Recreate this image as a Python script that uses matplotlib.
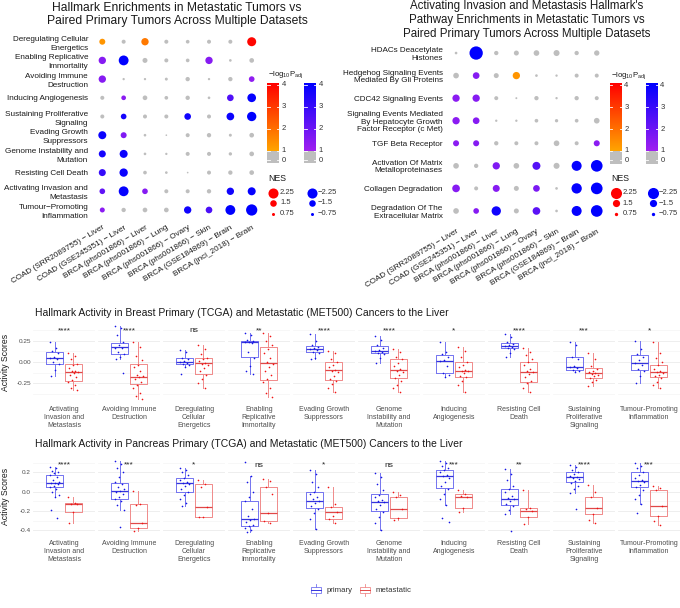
import numpy as np
import matplotlib
matplotlib.use("Agg")
import matplotlib.pyplot as plt
from matplotlib.colors import LinearSegmentedColormap
from matplotlib.patches import Rectangle

plt.rcParams["font.family"] = ["Liberation Sans", "DejaVu Sans"]
plt.rcParams["mathtext.fontset"] = "custom"
plt.rcParams["mathtext.rm"] = "Liberation Sans"

# ---------------- dot plot data ----------------
datasets = ["COAD (SRR2089755) \u2212 Liver", "COAD (GSE245351) \u2212 Liver",
            "BRCA (phs001866) \u2212 Liver", "BRCA (phs001866) \u2212 Lung",
            "BRCA (phs001866) \u2212 Ovary", "BRCA (phs001866) \u2212 Skin",
            "BRCA (GSE184869) \u2212 Brain", "BRCA (jnci_2018) \u2212 Brain"]

hallmarks = ["Deregulating Cellular\nEnergetics", "Enabling Replicative\nImmortality",
             "Avoiding Immune\nDestruction", "Inducing Angiogenesis",
             "Sustaining Proliferative\nSignaling", "Evading Growth\nSuppressors",
             "Genome Instability and\nMutation", "Resisting Cell Death",
             "Activating Invasion and\nMetastasis", "Tumour\u2212Promoting\nInflammation"]

nes_hallmark = [
    [1.38, 0.96, 1.67, 0.96, 0.89, 0.96, 0.96, 2.02],
    [-1.67, -2.2, -1.17, -0.96, -0.89, -1.67, -0.67, -1.10],
    [-1.67, -0.6, -0.6, -0.74, -1.03, -0.6, -1.03, -1.31],
    [-0.96, -1.10, -1.10, -0.89, -1.03, -0.67, -1.52, -1.95],
    [-0.96, -1.31, -0.96, -0.96, -1.52, -0.96, -1.74, -2.09],
    [-1.81, -1.38, -0.67, -0.46, -0.96, -1.03, -0.74, -1.10],
    [-1.6, -1.81, -0.67, -0.6, -0.96, -0.96, -0.82, -1.10],
    [-1.6, -1.88, -0.89, -0.67, -0.46, -0.96, -1.03, -1.10],
    [-1.31, -2.2, -1.31, -0.96, -0.96, -1.03, -1.67, -1.81],
    [-1.17, -1.03, -1.10, -1.10, -1.67, -1.52, -2.2, -2.5],
]
logp_hallmark = [
    [1.3, 0.3, 1.8, 0.2, 0.2, 0.3, 0.2, 3.9],
    [1.5, 4.0, 0.6, 0.3, 0.2, 1.5, 0.1, 0.4],
    [1.5, 0.1, 0.1, 0.1, 0.3, 0.1, 0.4, 1.3],
    [0.2, 1.4, 0.3, 0.2, 0.3, 0.1, 2.5, 3.9],
    [0.2, 3.6, 0.2, 0.2, 3.7, 0.2, 3.8, 4.0],
    [3.8, 1.6, 0.1, 0.1, 0.2, 0.3, 0.1, 0.4],
    [3.6, 3.8, 0.1, 0.1, 0.2, 0.2, 0.1, 0.4],
    [3.0, 3.8, 0.2, 0.1, 0.1, 0.2, 0.3, 0.4],
    [2.2, 3.9, 1.5, 0.2, 0.2, 0.3, 3.7, 3.9],
    [1.4, 0.3, 0.4, 0.4, 3.7, 2.6, 4.0, 4.0],
]

pathways = ["HDACs Deacetylate\nHistones", "Hedgehog Signaling Events\nMediated By Gli Proteins",
            "CDC42 Signaling Events",
            "Signaling Events Mediated\nBy Hepatocyte Growth\nFactor Receptor (c Met)",
            "TGF Beta Receptor", "Activation Of Matrix\nMetalloproteinases",
            "Collagen Degradation", "Degradation Of The\nExtracellular Matrix"]

nes_pathway = [
    [-0.62, -2.68, -0.94, -1.07, -1.2, -1.27, -0.94, -1.14],
    [-1.2, -1.4, -1.07, 1.52, -0.62, -0.56, -0.88, -0.88],
    [-1.52, -1.52, -0.88, -0.49, -0.94, -0.56, -0.94, -0.88],
    [-1.52, -1.4, -0.56, -0.56, -0.82, -0.75, -0.82, -1.2],
    [-1.27, -1.27, -0.94, -0.88, -0.88, -1.2, -0.88, -1.27],
    [-1.2, -0.94, -1.52, -1.2, -1.65, -1.27, -2.04, -2.36],
    [-1.59, -0.88, -1.46, -1.07, -1.4, -0.62, -2.1, -2.36],
    [-1.2, -1.2, -1.91, -1.07, -1.59, -0.62, -2.04, -2.36],
]
logp_pathway = [
    [0.1, 4.0, 0.3, 0.4, 0.5, 0.5, 0.3, 0.4],
    [0.4, 1.5, 0.3, 1.3, 0.1, 0.1, 0.2, 0.2],
    [1.4, 1.5, 0.2, 0.1, 0.3, 0.1, 0.3, 0.2],
    [1.4, 1.5, 0.1, 0.1, 0.2, 0.2, 0.2, 0.4],
    [1.4, 1.5, 0.3, 0.2, 0.2, 0.5, 0.2, 1.4],
    [0.4, 0.3, 1.6, 0.4, 2.4, 0.5, 3.9, 4.0],
    [1.5, 0.2, 1.5, 0.3, 1.7, 0.1, 3.9, 4.0],
    [0.4, 1.5, 3.7, 0.3, 2.3, 0.1, 3.9, 4.0],
]

nes_breaks = [2.25, 1.5, 0.75]
logp_ticks = [4, 3, 2, 1, 0]

# ---------------- box plot data ----------------
box_labels = ["Activating\nInvasion and\nMetastasis", "Avoiding Immune\nDestruction",
              "Deregulating\nCellular\nEnergetics", "Enabling\nReplicative\nImmortality",
              "Evading Growth\nSuppressors", "Genome\nInstability and\nMutation",
              "Inducing\nAngiogenesis", "Resisting Cell\nDeath",
              "Sustaining\nProliferative\nSignaling", "Tumour-Promoting\nInflammation"]

# (whisker low, q1, median, q3, whisker high)
breast_primary_stats = [
    (-0.16, -0.024, 0.05, 0.122, 0.24), (0.03, 0.09, 0.173, 0.228, 0.425),
    (-0.055, -0.024, 0.004, 0.05, 0.14), (-0.142, 0.055, 0.236, 0.25, 0.34),
    (0.03, 0.114, 0.15, 0.193, 0.33), (-0.008, 0.102, 0.134, 0.193, 0.307),
    (-0.173, -0.134, 0.016, 0.083, 0.232), (0.055, 0.161, 0.193, 0.22, 0.33),
    (-0.114, -0.094, -0.055, 0.055, 0.232), (-0.252, -0.094, -0.008, 0.083, 0.244)]
breast_metastatic_stats = [
    (-0.33, -0.22, -0.114, -0.028, 0.10), (-0.44, -0.264, -0.173, -0.028, 0.24),
    (-0.30, -0.142, -0.016, 0.043, 0.2), (-0.41, -0.213, -0.016, 0.173, 0.34),
    (-0.35, -0.213, -0.094, 0.004, 0.134), (-0.35, -0.185, -0.094, 0.035, 0.15),
    (-0.35, -0.173, -0.102, -0.004, 0.173), (-0.35, -0.24, -0.122, 0.004, 0.161),
    (-0.283, -0.193, -0.134, -0.075, 0.11), (-0.303, -0.181, -0.122, -0.035, 0.24)]
breast_primary_pts = [
    [0.24, 0.17, 0.13, 0.10, 0.06, 0.05, 0.03, 0.00, -0.02, -0.09, -0.16],
    [0.42, 0.40, 0.32, 0.23, 0.20, 0.17, 0.16, 0.12, 0.09, 0.06, 0.03, -0.126],
    [0.14, 0.12, 0.05, 0.03, 0.01, 0.0, -0.01, -0.02, -0.04, -0.055, -0.146],
    [0.34, 0.32, 0.26, 0.25, 0.24, 0.23, 0.22, 0.12, 0.05, -0.05, -0.10, -0.142],
    [0.33, 0.25, 0.2, 0.18, 0.16, 0.15, 0.14, 0.12, 0.10, 0.05, 0.03],
    [0.307, 0.26, 0.2, 0.17, 0.14, 0.13, 0.12, 0.11, 0.09, 0.05, -0.008],
    [0.232, 0.12, 0.09, 0.06, 0.02, 0.01, -0.05, -0.13, -0.15, -0.173],
    [0.33, 0.29, 0.24, 0.21, 0.2, 0.19, 0.18, 0.17, 0.15, 0.1, 0.055],
    [0.232, 0.2, 0.06, 0.04, -0.05, -0.06, -0.07, -0.09, -0.1, -0.114],
    [0.244, 0.15, 0.09, 0.06, 0.02, -0.01, -0.03, -0.08, -0.1, -0.17, -0.252]]
breast_metastatic_pts = [
    [0.10, 0.07, 0.03, -0.02, -0.04, -0.07, -0.1, -0.11, -0.12, -0.13, -0.15, -0.18, -0.21, -0.23, -0.27, -0.30, -0.33],
    [0.24, 0.18, 0.07, 0.02, -0.03, -0.06, -0.11, -0.15, -0.17, -0.18, -0.2, -0.24, -0.27, -0.31, -0.36, -0.40, -0.44],
    [0.2, 0.15, 0.09, 0.05, 0.03, 0.01, -0.01, -0.02, -0.04, -0.07, -0.1, -0.15, -0.2, -0.25, -0.30],
    [0.34, 0.3, 0.25, 0.2, 0.15, 0.1, 0.05, 0.0, -0.02, -0.06, -0.1, -0.15, -0.2, -0.24, -0.3, -0.36, -0.41],
    [0.134, 0.1, 0.04, 0.0, -0.03, -0.06, -0.09, -0.1, -0.12, -0.16, -0.2, -0.22, -0.26, -0.3, -0.35],
    [0.15, 0.12, 0.06, 0.03, -0.01, -0.05, -0.08, -0.1, -0.12, -0.15, -0.19, -0.22, -0.27, -0.31, -0.35],
    [0.173, 0.13, 0.06, 0.0, -0.03, -0.06, -0.09, -0.1, -0.11, -0.13, -0.16, -0.18, -0.22, -0.27, -0.35],
    [0.161, 0.12, 0.08, 0.03, 0.0, -0.04, -0.08, -0.11, -0.12, -0.14, -0.18, -0.22, -0.25, -0.3, -0.35],
    [0.11, 0.04, -0.05, -0.08, -0.1, -0.12, -0.13, -0.14, -0.15, -0.17, -0.19, -0.21, -0.24, -0.283],
    [0.24, 0.1, 0.05, 0.0, -0.04, -0.08, -0.1, -0.12, -0.13, -0.15, -0.17, -0.19, -0.23, -0.27, -0.303]]
breast_sig = ["****", "****", "ns", "**", "****", "****", "*", "****", "***", "*"]

pancreas_primary_stats = [
    (-0.052, 0.045, 0.093, 0.172, 0.259), (-0.19, -0.079, 0.007, 0.086, 0.317),
    (-0.145, 0.0, 0.093, 0.138, 0.241), (-0.42, -0.352, -0.286, -0.097, 0.166),
    (-0.386, -0.172, -0.097, -0.007, 0.224), (-0.397, -0.197, -0.103, -0.028, 0.19),
    (-0.138, 0.041, 0.162, 0.221, 0.32), (-0.231, -0.138, -0.076, 0.028, 0.231),
    (-0.017, 0.097, 0.148, 0.2, 0.276), (-0.131, 0.045, 0.11, 0.2, 0.293)]
pancreas_metastatic_stats = [
    (-0.32, -0.207, -0.128, -0.12, -0.059), (-0.403, -0.372, -0.321, -0.131, 0.01),
    (-0.265, -0.259, -0.155, 0.076, 0.121), (-0.32, -0.303, -0.224, 0.052, 0.131),
    (-0.32, -0.286, -0.214, -0.155, 0.045), (-0.293, -0.269, -0.179, -0.059, -0.007),
    (-0.207, -0.172, -0.059, -0.028, 0.017), (-0.334, -0.259, -0.197, -0.166, 0.017),
    (-0.321, -0.234, -0.172, -0.059, 0.069), (-0.345, -0.252, -0.148, 0.017, 0.059)]
pancreas_primary_pts = [
    [0.259, 0.24, 0.21, 0.2, 0.19, 0.17, 0.15, 0.12, 0.1, 0.09, 0.09, 0.08, 0.06, 0.05, 0.03, 0.0, -0.03, -0.052, -0.19, -0.276],
    [0.317, 0.29, 0.24, 0.2, 0.15, 0.1, 0.08, 0.05, 0.03, 0.01, 0.0, -0.02, -0.05, -0.08, -0.1, -0.14, -0.19, -0.362],
    [0.241, 0.22, 0.2, 0.17, 0.14, 0.12, 0.1, 0.09, 0.08, 0.06, 0.03, 0.0, -0.03, -0.08, -0.12, -0.145],
    [0.31, 0.166, 0.1, 0.0, -0.05, -0.1, -0.18, -0.25, -0.28, -0.29, -0.31, -0.34, -0.35, -0.38, -0.4, -0.42],
    [0.224, 0.18, 0.1, 0.05, 0.0, -0.02, -0.05, -0.08, -0.1, -0.12, -0.15, -0.18, -0.22, -0.28, -0.386],
    [0.19, 0.15, 0.08, 0.02, -0.03, -0.06, -0.09, -0.1, -0.11, -0.14, -0.18, -0.21, -0.26, -0.32, -0.397],
    [0.32, 0.3, 0.27, 0.24, 0.22, 0.2, 0.17, 0.16, 0.14, 0.1, 0.06, 0.03, -0.02, -0.08, -0.138, -0.27, -0.31],
    [0.231, 0.18, 0.12, 0.06, 0.03, 0.0, -0.04, -0.07, -0.08, -0.1, -0.13, -0.15, -0.19, -0.231, -0.407],
    [0.276, 0.25, 0.22, 0.2, 0.18, 0.16, 0.15, 0.14, 0.13, 0.11, 0.09, 0.06, 0.03, -0.017, -0.183],
    [0.293, 0.27, 0.24, 0.2, 0.17, 0.14, 0.12, 0.11, 0.1, 0.07, 0.05, 0.02, -0.03, -0.08, -0.131, -0.224]]
pancreas_metastatic_pts = [
    [-0.059, -0.12, -0.128, -0.13, -0.207, -0.32],
    [0.01, -0.131, -0.14, -0.32, -0.372, -0.403],
    [0.121, 0.076, 0.05, -0.155, -0.259, -0.265],
    [0.131, 0.11, 0.052, -0.02, -0.224, -0.303, -0.32],
    [0.045, -0.13, -0.155, -0.214, -0.25, -0.286, -0.32],
    [-0.007, -0.03, -0.059, -0.179, -0.269, -0.293],
    [0.017, -0.028, -0.04, -0.059, -0.172, -0.207],
    [0.017, -0.166, -0.18, -0.197, -0.259, -0.334],
    [0.069, 0.0, -0.059, -0.172, -0.234, -0.29, -0.321],
    [0.059, 0.04, 0.017, -0.148, -0.252, -0.3, -0.345]]
pancreas_sig = ["****", "***", "*", "ns", "*", "ns", "***", "**", "****", "***"]

# ---------------- helpers ----------------
W, H = 680, 608
fig = plt.figure(figsize=(W / 100, H / 100), dpi=100)


def px_rect(l, t, r, b):
    return [l / W, 1 - b / H, (r - l) / W, (b - t) / H]


red_cmap = LinearSegmentedColormap.from_list("up", ["#FFA500", "#FF0000"])
blue_cmap = LinearSegmentedColormap.from_list("down", ["#A020F0", "#0000FF"])
GRAY = "#BEBEBE"


def dot_size(nes, scale=1.0):
    d = scale * (4.7 * np.abs(np.asarray(nes, dtype=float)) - 0.5)
    return (d * 0.72) ** 2


def dot_color(nes, lp):
    if lp < 1:
        return GRAY
    frac = (min(lp, 4) - 1) / 3
    return red_cmap(frac) if nes > 0 else blue_cmap(frac)


def dot_plot(rect, rows, nes, logp, scale, ls, xpad):
    ax = fig.add_axes(rect)
    nes = np.array(nes)
    logp = np.array(logp)
    ny, nx = nes.shape
    xx, yy = np.meshgrid(np.arange(1, nx + 1), np.arange(1, ny + 1))
    cols = [dot_color(n, p) for n, p in zip(nes.ravel(), logp.ravel())]
    ax.scatter(xx.ravel(), yy.ravel(), s=dot_size(nes.ravel(), scale), c=cols, linewidths=0)
    ax.set_xlim(0.4, nx + 0.6)
    ax.set_ylim(ny + 0.6, 0.4)
    ax.set_xticks(range(1, nx + 1))
    ax.set_xticklabels(datasets, rotation=31, ha="right", va="top",
                       rotation_mode="anchor", fontsize=5.9, color="#1A1A1A")
    ax.set_yticks(range(1, ny + 1))
    ax.set_yticklabels(rows, fontsize=5.9, color="#1A1A1A", linespacing=ls)
    ax.tick_params(axis="y", length=0, pad=1)
    ax.tick_params(axis="x", length=0, pad=xpad)
    for s in ax.spines.values():
        s.set_visible(False)
    return ax


# ---------------- top dot plots ----------------
fig.text(177 / W, 1 - 14.5 / H,
         "Hallmark Enrichments in Metastatic Tumors vs\nPaired Primary Tumors Across Multiple Datasets",
         ha="center", va="center", fontsize=8.7, linespacing=1.19, color="#1A1A1A")
dot_plot(px_rect(89.5, 30.5, 264.5, 221.2), hallmarks, nes_hallmark, logp_hallmark, 1.0, 1.4, 2.2)

fig.text(526.5 / W, 1 - 19.8 / H,
         "Activating Invasion and Metastasis Hallmark's\nPathway Enrichments in Metastatic Tumors vs\n"
         "Paired Primary Tumors Across Multiple Datasets",
         ha="center", va="center", fontsize=8.3, linespacing=1.2, color="#1A1A1A")
dot_plot(px_rect(444, 39.5, 608.8, 224.5), pathways, nes_pathway, logp_pathway, 1.1, 1.12, 2.5)


# ---------------- box plots ----------------
def box_row(top, bottom, ylim, majors, minors, yticklabels, p_stats, m_stats, p_pts, m_pts,
            sig, sig_y, title, title_y, xpad):
    fig.text(35 / W, 1 - title_y / H, title, ha="left", va="center", fontsize=7.45, color="#1A1A1A")
    fig.text(6 / W, 1 - (top + bottom) / 2 / H, "Activity Scores", rotation=90,
             ha="center", va="center", fontsize=6.2, color="#1A1A1A")
    for i in range(10):
        l = 33 + 65 * i
        ax = fig.add_axes(px_rect(l, top, l + 62, bottom))
        ax.set_xlim(0.4, 1.6)
        ax.set_ylim(*ylim)
        for v in majors:
            ax.axhline(v, color="#EBEBEB", lw=0.6, zorder=0)
        for v in minors:
            ax.axhline(v, color="#F3F3F3", lw=0.45, zorder=0)
        for pos, st, pts, edge, med, dot in [
                (0.82, p_stats[i], p_pts[i], "#7373F0", "#3535DD", "#1414E6"),
                (1.18, m_stats[i], m_pts[i], "#F08A8A", "#E04848", "#F01414")]:
            ax.bxp([dict(whislo=st[0], q1=st[1], med=st[2], q3=st[3], whishi=st[4])],
                   positions=[pos], widths=0.32, showfliers=False, showcaps=False,
                   manage_ticks=False,
                   boxprops=dict(color=edge, lw=0.7),
                   whiskerprops=dict(color=edge, lw=0.7),
                   medianprops=dict(color=med, lw=0.9))
            off = ((np.arange(len(pts)) * 0.618034) % 1 - 0.5) * 0.2
            ax.scatter(pos + off, pts, s=1.4, color=dot, linewidths=0, zorder=3)
        ax.text(1, sig_y, sig[i], ha="center", va="baseline", fontsize=6, color="#222222")
        ax.set_xticks([1])
        ax.set_xticklabels([box_labels[i]], fontsize=5, color="#4D4D4D", linespacing=1.18)
        ax.tick_params(axis="x", length=0, pad=xpad)
        ax.set_yticks(majors)
        if i == 0:
            ax.set_yticklabels(yticklabels, fontsize=4.6, color="#4D4D4D")
            ax.tick_params(axis="y", length=0, pad=1.5)
        else:
            ax.tick_params(axis="y", length=0, labelleft=False)
        for s in ax.spines.values():
            s.set_visible(False)


box_row(324, 401, (-0.458, 0.446), [-0.25, 0.0, 0.25], [-0.375, -0.125, 0.125, 0.375],
        ["-0.25", "0.00", "0.25"],
        breast_primary_stats, breast_metastatic_stats, breast_primary_pts, breast_metastatic_pts,
        breast_sig, 0.352,
        "Hallmark Activity in Breast Primary (TCGA) and Metastatic (MET500) Cancers to the Liver",
        313, 3.6)

box_row(458, 535, (-0.448, 0.348), [-0.4, -0.2, 0.0, 0.2], [-0.3, -0.1, 0.1, 0.3],
        ["-0.4", "-0.2", "0.0", "0.2"],
        pancreas_primary_stats, pancreas_metastatic_stats, pancreas_primary_pts, pancreas_metastatic_pts,
        pancreas_sig, 0.26,
        "Hallmark Activity in Pancreas Primary (TCGA) and Metastatic (MET500) Cancers to the Liver",
        444, 3.6)

# ---------------- legends (pixel overlay) ----------------
ov = fig.add_axes([0, 0, 1, 1])
ov.set_axis_off()
ov.patch.set_visible(False)


def scale_legend(x0, y0, scale, gap):
    ov.text(x0 + 1, y0 - 75.7, r"$\mathregular{-log_{10}P_{adj}}$", fontsize=5.6,
            ha="left", va="center", color="#1A1A1A")
    grad = np.linspace(0, 1, 256).reshape(-1, 1)
    for bx, cmap in [(x0, red_cmap), (x0 + gap, blue_cmap)]:
        ov.imshow(grad, cmap=cmap, origin="lower", extent=(bx, bx + 12, y0, y0 - 68),
                  aspect="auto", interpolation="bilinear")
        ov.add_patch(Rectangle((bx, y0), 12, 12.5, color=GRAY, lw=0))
        for v in logp_ticks:
            ty = y0 - (v - 1) * 21.9 if v >= 1 else y0 + 9.3
            ov.plot([bx, bx + 2.4], [ty, ty], color="white", lw=0.6)
            ov.plot([bx + 9.6, bx + 12], [ty, ty], color="white", lw=0.6)
            ov.text(bx + 14.3, ty, str(v), fontsize=5.5, ha="left", va="center", color="#333333")
    ov.text(x0 + 1, y0 + 27.6, "NES", fontsize=6.3, ha="left", va="center", color="#1A1A1A")
    for k, n in enumerate(nes_breaks):
        yy = y0 + 41.8 + 10.5 * k
        ov.scatter([x0 + 6], [yy], s=dot_size(n, scale), color="#FF0000", linewidths=0)
        ov.text(x0 + 12.7, yy, f"{n:g}", fontsize=5.5, ha="left", va="center", color="#333333")
        ov.scatter([x0 + gap + 7.4], [yy], s=dot_size(-n, scale), color="#0000FF", linewidths=0)
        ov.text(x0 + gap + 13, yy, f"\u2212{n:g}", fontsize=5.5, ha="left", va="center", color="#333333")


scale_legend(267.3, 150.7, 1.0, 37)
scale_legend(610, 151, 1.1, 36)

# group legend at the bottom
for cx, name, edge, med in [(316, "primary", "#7373F0", "#3535DD"),
                            (365, "metastatic", "#F08A8A", "#E04848")]:
    ov.add_patch(Rectangle((cx - 5, 587), 10, 6, fill=False, edgecolor=edge, lw=0.6))
    ov.plot([cx - 5, cx + 5], [590, 590], color=med, lw=0.7)
    ov.plot([cx, cx], [584, 587], color=edge, lw=0.6)
    ov.plot([cx, cx], [593, 596], color=edge, lw=0.6)
    ov.text(cx + 11, 590, name, fontsize=5.6, ha="left", va="center", color="#333333")

ov.set_xlim(0, W)
ov.set_ylim(H, 0)

fig.savefig("out.png", dpi=100)
